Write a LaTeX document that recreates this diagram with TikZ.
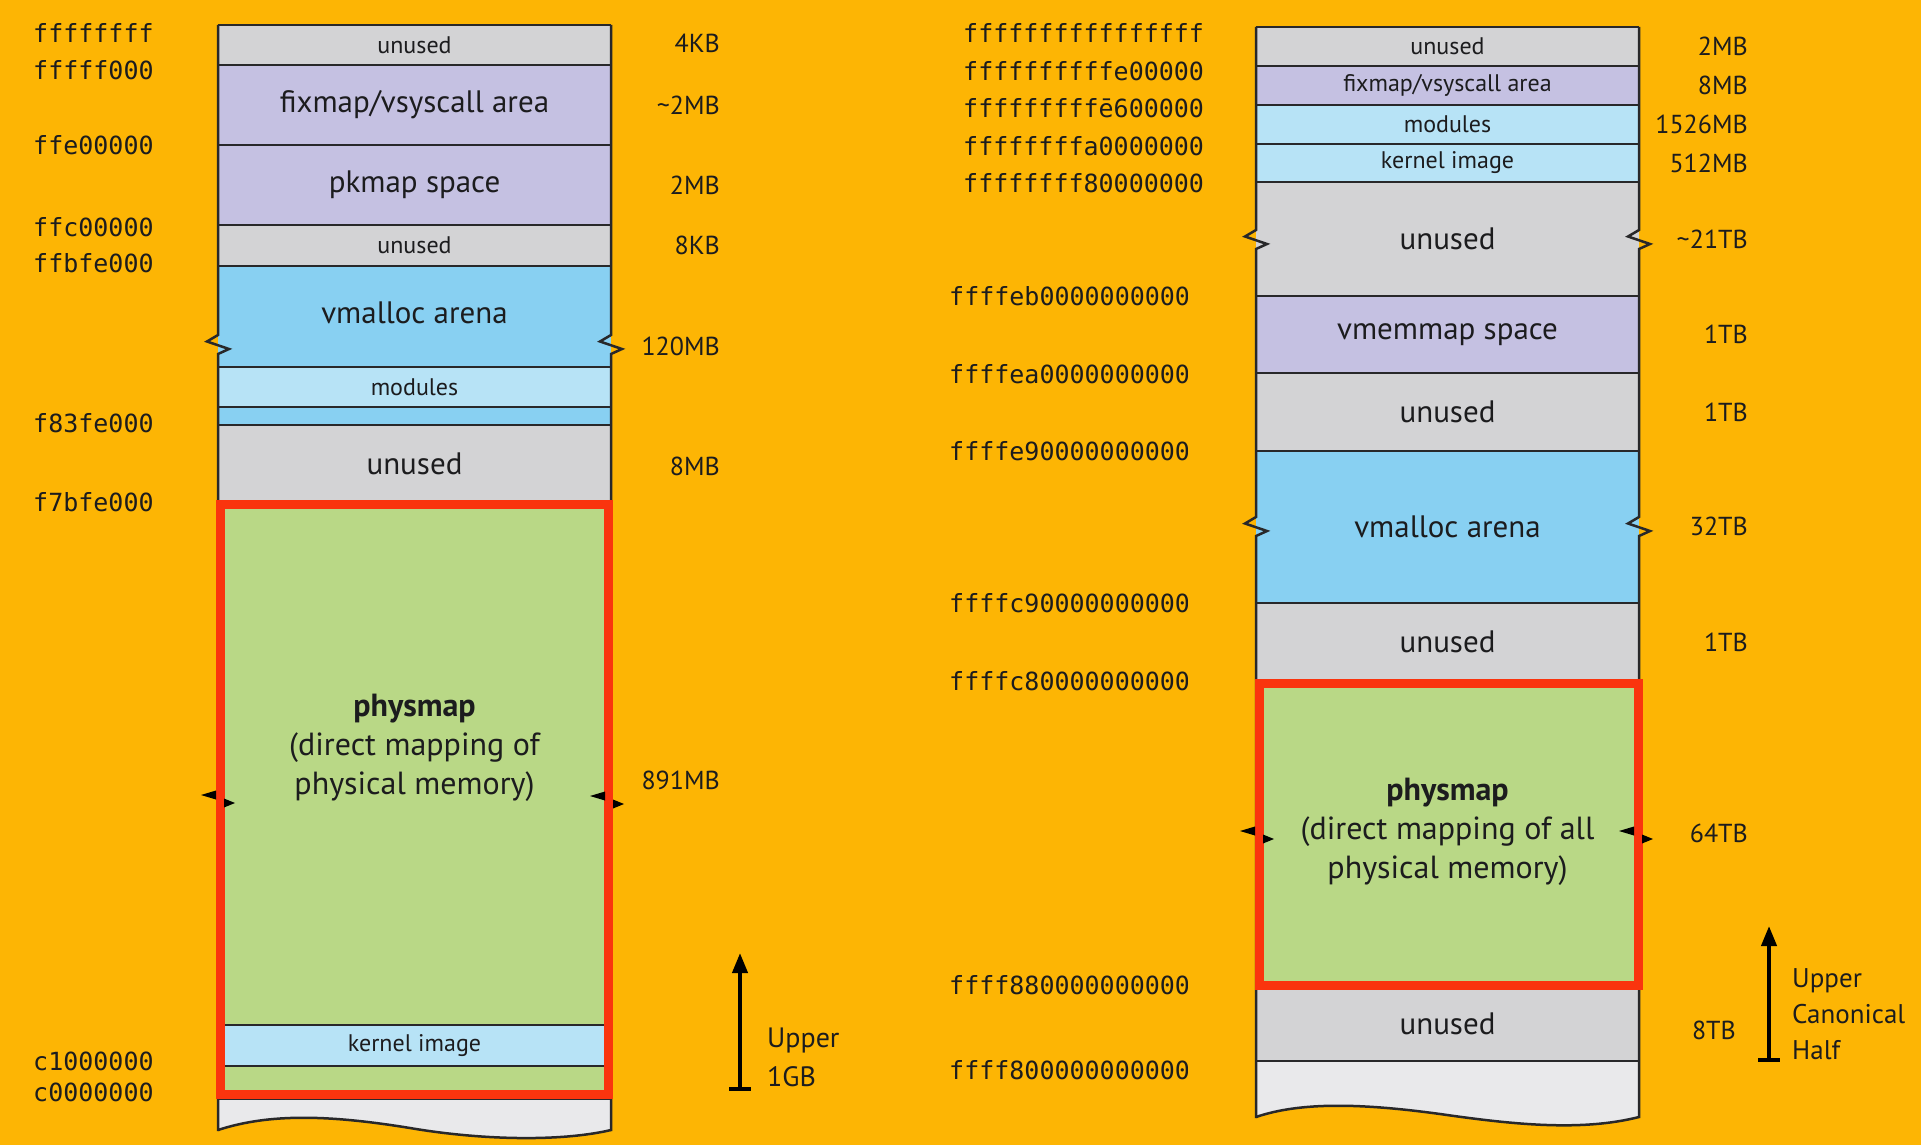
\documentclass[tikz,border=0pt]{standalone}
\usepackage{fontspec}
\setmainfont{PT Sans}
\newfontfamily\addrfont{DejaVu Sans Mono}
\usetikzlibrary{arrows.meta}

\definecolor{bgorange}{RGB}{253,181,4}
\definecolor{cgray}{RGB}{211,211,213}
\definecolor{clav}{RGB}{197,193,226}
\definecolor{cblue}{RGB}{136,208,242}
\definecolor{clblue}{RGB}{183,227,246}
\definecolor{cgreen}{RGB}{185,216,134}
\definecolor{cwhite}{RGB}{233,233,235}
\definecolor{cred}{RGB}{250,52,14}
\definecolor{ink}{RGB}{28,28,30}
\definecolor{edgecol}{RGB}{40,40,42}

\tikzset{
  band/.style={rectangle, inner sep=0pt, outer sep=0pt, anchor=north west, draw=none, text=ink},
  bigtxt/.style={font=\fontsize{31}{37}\selectfont},
  smalltxt/.style={font=\fontsize{24}{29}\selectfont},
  phystxt/.style={font=\fontsize{32}{39}\selectfont, align=center, text=ink, inner sep=0pt},
  addr/.style={anchor=west, inner sep=0pt, text=ink, font=\addrfont\fontsize{25}{30}\selectfont},
  sizelab/.style={anchor=east, inner sep=0pt, text=ink, font=\fontsize{26}{31}\selectfont},
  edgeline/.style={draw=edgecol, line width=2.5pt},
  redframe/.style={draw=cred, line width=9pt},
  uparrow/.style={draw=black, line width=4pt, -{Triangle[width=15pt,length=20pt]}},
  sidenote/.style={anchor=west, inner sep=0pt, text=ink, align=left},
  brk/.pic={
    \fill[black] (-4,-4.5) -- (-19,0) -- (-4,4.5) -- cycle;
    \fill[black] (4,3.5) -- (15,8) -- (4,12.5) -- cycle;
  }
}

\begin{document}
\begin{tikzpicture}[x=1pt,y=-1pt]
  % page and background
  \fill[bgorange] (0,0) rectangle (1921,1145);
  \useasboundingbox (0,0) rectangle (1921,1145);

  % ================= 32-bit layout (left) =================
  \node[band, smalltxt, fill=cgray,  minimum width=393, minimum height=40]  (la) at (218,25)  {unused};
  \node[band, bigtxt,   fill=clav,   minimum width=393, minimum height=80]  (lb) at (218,65)  {fixmap/vsyscall area};
  \node[band, bigtxt,   fill=clav,   minimum width=393, minimum height=80]  (lc) at (218,145) {pkmap space};
  \node[band, smalltxt, fill=cgray,  minimum width=393, minimum height=41]  (ld) at (218,225) {unused};
  \node[band, fill=cblue,  minimum width=393, minimum height=101] (le) at (218,266) {};
  \node[bigtxt, inner sep=0pt, text=ink] (letxt) at (414.5,313) {vmalloc arena};
  \node[band, smalltxt, fill=clblue, minimum width=393, minimum height=40]  (lf) at (218,367) {modules};
  \node[band,           fill=cblue,  minimum width=393, minimum height=18]  (lg) at (218,407) {};
  \node[band, bigtxt,   fill=cgray,  minimum width=393, minimum height=77]  (lh) at (218,425) {unused};
  \node[band,           fill=cgreen, minimum width=393, minimum height=598] (li) at (218,502) {};
  \node[band, smalltxt, fill=clblue, minimum width=393, minimum height=41]  (lk) at (218,1025) {kernel image};
  \node[phystxt] (lphys) at (414.5,748)
       {\textbf{physmap}\\(direct mapping of\\physical memory)};

  % torn-off bottom of the left column
  \fill[cwhite] (218,1099) -- (218,1130) .. controls (270,1113) and (330,1115) .. (410,1128)
                .. controls (480,1140) and (560,1142) .. (611,1130) -- (611,1099) -- cycle;
  \draw[edgeline] (218,1130) .. controls (270,1113) and (330,1115) .. (410,1128)
                .. controls (480,1140) and (560,1142) .. (611,1130);

  % separators
  \foreach \yy in {25,65,145,225,266,367,407,425,502,1025,1066,1099}
    \draw[edgeline] (218,\yy) -- (611,\yy);
  % side edges with break marks
  \draw[edgeline] (218,25) -- (218,335) -- ++(-11,6.5) -- ++(22,7.5) -- ++(-11,5) -- (218,1131);
  \draw[edgeline] (611,25) -- (611,335) -- ++(-11,6.5) -- ++(22,7.5) -- ++(-11,5) -- (611,1131);

  % physmap frame
  \draw[redframe] (220.5,504.5) rectangle (608.5,1094.5);
  \pic at (220,795) {brk};
  \pic at (609,796) {brk};

  % addresses
  \node[addr] (a1) at (33,33)   {ffffffff};
  \node[addr] (a2) at (33,70)   {fffff000};
  \node[addr] (a3) at (33,145)  {ffe00000};
  \node[addr] (a4) at (33,227)  {ffc00000};
  \node[addr] (a5) at (33,263)  {ffbfe000};
  \node[addr] (a6) at (33,423)  {f83fe000};
  \node[addr] (a7) at (33,502)  {f7bfe000};
  \node[addr] (a8) at (33,1061) {c1000000};
  \node[addr] (a9) at (33,1092) {c0000000};

  % sizes
  \node[sizelab] (s1) at (720,43)  {4KB};
  \node[sizelab] (s2) at (720,105) {\textasciitilde 2MB};
  \node[sizelab] (s3) at (720,185) {2MB};
  \node[sizelab] (s4) at (720,245) {8KB};
  \node[sizelab] (s5) at (720,346) {120MB};
  \node[sizelab] (s6) at (720,466) {8MB};
  \node[sizelab] (s7) at (720,780) {891MB};

  % upper 1GB marker
  \coordinate (lbase) at (740,1089);
  \coordinate (ltip)  at (740,953);
  \draw[uparrow] (lbase) -- (ltip);
  \draw[line width=4pt] ([xshift=-11pt]lbase) -- ([xshift=11pt]lbase);
  \node[sidenote, font=\fontsize{28}{39}\selectfont] (lnote) at (767,1057) {Upper\\1GB};

  % ================= 64-bit layout (right) =================
  \node[band, smalltxt, fill=cgray,  minimum width=383, minimum height=39]  (ra) at (1256,27)  {unused};
  \node[band, smalltxt, fill=clav,   minimum width=383, minimum height=39]  (rb) at (1256,66)  {fixmap/vsyscall area};
  \node[band, smalltxt, fill=clblue, minimum width=383, minimum height=39]  (rc) at (1256,105) {modules};
  \node[band, smalltxt, fill=clblue, minimum width=383, minimum height=38]  (rd) at (1256,144) {kernel image};
  \node[band, bigtxt,   fill=cgray,  minimum width=383, minimum height=114] (re) at (1256,182) {unused};
  \node[band, bigtxt,   fill=clav,   minimum width=383, minimum height=77]  (rf) at (1256,296) {vmemmap space};
  \node[band, bigtxt,   fill=cgray,  minimum width=383, minimum height=78]  (rg) at (1256,373) {unused};
  \node[band, bigtxt,   fill=cblue,  minimum width=383, minimum height=152] (rh) at (1256,451) {vmalloc arena};
  \node[band, bigtxt,   fill=cgray,  minimum width=383, minimum height=77]  (ri) at (1256,603) {unused};
  \node[band, fill=cgreen, minimum width=383, minimum height=306] (rj) at (1256,680) {};
  \node[phystxt] (rphys) at (1447.5,832)
       {\textbf{physmap}\\(direct mapping of all\\physical memory)};
  \node[band, bigtxt,   fill=cgray,  minimum width=383, minimum height=75]  (rk) at (1256,986) {unused};

  % torn-off bottom of the right column
  \fill[cwhite] (1256,1061) -- (1256,1117) .. controls (1300,1102) and (1360,1103) .. (1440,1114)
                .. controls (1510,1124) and (1580,1132) .. (1639,1117) -- (1639,1061) -- cycle;
  \draw[edgeline] (1256,1117) .. controls (1300,1102) and (1360,1103) .. (1440,1114)
                .. controls (1510,1124) and (1580,1132) .. (1639,1117);

  \foreach \yy in {27,66,105,144,182,296,373,451,603,680,986,1061}
    \draw[edgeline] (1256,\yy) -- (1639,\yy);
  \draw[edgeline] (1256,27) -- (1256,230) -- ++(-11,6.5) -- ++(22,7.5) -- ++(-11,5)
                  -- (1256,517) -- ++(-11,6.5) -- ++(22,7.5) -- ++(-11,5) -- (1256,1118);
  \draw[edgeline] (1639,27) -- (1639,230) -- ++(-11,6.5) -- ++(22,7.5) -- ++(-11,5)
                  -- (1639,517) -- ++(-11,6.5) -- ++(22,7.5) -- ++(-11,5) -- (1639,1118);

  \draw[redframe] (1259.5,683.5) rectangle (1638.5,985.5);
  \pic at (1259,831) {brk};
  \pic at (1638,831) {brk};

  % addresses
  \node[addr] (b1) at (963,33)  {ffffffffffffffff};
  \node[addr] (b2) at (963,71)  {ffffffffffe00000};
  \node[addr] (b3) at (963,108) {fffffffffē600000};
  \node[addr] (b4) at (963,146) {ffffffffa0000000};
  \node[addr] (b5) at (963,183) {ffffffff80000000};
  \begin{scope}
    \clip (940,270) rectangle (1187,1100);
    \node[addr] (b6)  at (949,296)  {ffffeb0000000000};
    \node[addr] (b7)  at (949,374)  {ffffea0000000000};
    \node[addr] (b8)  at (949,451)  {ffffe90000000000};
    \node[addr] (b9)  at (949,603)  {ffffc90000000000};
    \node[addr] (b10) at (949,681)  {ffffc80000000000};
    \node[addr] (b11) at (949,985)  {ffff880000000000};
    \node[addr] (b12) at (949,1070) {ffff800000000000};
  \end{scope}

  % sizes
  \node[sizelab] (t1)  at (1748,46)  {2MB};
  \node[sizelab] (t2)  at (1748,85)  {8MB};
  \node[sizelab] (t3)  at (1748,124) {1526MB};
  \node[sizelab] (t4)  at (1748,163) {512MB};
  \node[sizelab] (t5)  at (1748,239) {\textasciitilde 21TB};
  \node[sizelab] (t6)  at (1748,334) {1TB};
  \node[sizelab] (t7)  at (1748,412) {1TB};
  \node[sizelab] (t8)  at (1748,526) {32TB};
  \node[sizelab] (t9)  at (1748,642) {1TB};
  \node[sizelab] (t10) at (1748,833) {64TB};
  \node[sizelab] (t11) at (1736,1030) {8TB};

  % upper canonical half marker
  \coordinate (rbase) at (1769,1060);
  \coordinate (rtip)  at (1769,926);
  \draw[uparrow] (rbase) -- (rtip);
  \draw[line width=4pt] ([xshift=-11pt]rbase) -- ([xshift=11pt]rbase);
  \node[sidenote, font=\fontsize{27}{36}\selectfont] (rnote) at (1792,1014) {Upper\\Canonical\\Half};
\end{tikzpicture}
\end{document}
